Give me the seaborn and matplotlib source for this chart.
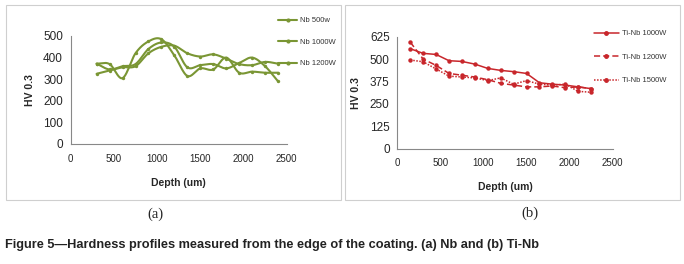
import numpy as np
import pandas as pd
import matplotlib
matplotlib.use("Agg")
import matplotlib.pyplot as plt
from matplotlib.lines import Line2D
from matplotlib.patches import Rectangle
import seaborn as sns

# Data (a) Nb coatings
nb_depth = [300, 450, 600, 750, 900, 1050, 1200, 1350, 1500, 1650, 1800, 1950, 2100, 2250, 2400]
nb_500 = [325, 340, 355, 360, 420, 450, 455, 420, 405, 415, 395, 370, 365, 380, 372]
nb_1000 = [372, 370, 305, 420, 475, 485, 410, 315, 350, 345, 400, 330, 335, 330, 330]
nb_1200 = [372, 345, 360, 370, 440, 470, 450, 355, 365, 370, 350, 375, 400, 360, 290]
nb_labels = ["Nb 500w", "Nb 1000W", "Nb 1200W"]

# Data (b) Ti-Nb coatings
tinb_depth = [150, 300, 450, 600, 750, 900, 1050, 1200, 1350, 1500, 1650, 1800, 1950, 2100, 2250]
tinb_1000 = [558, 532, 526, 491, 487, 472, 448, 437, 430, 420, 368, 360, 355, 345, 335]
tinb_1200 = [595, 500, 465, 420, 410, 400, 385, 365, 355, 345, 345, 350, 340, 345, 335]
tinb_1500 = [495, 485, 445, 405, 400, 395, 380, 395, 360, 380, 360, 355, 360, 320, 315]
tinb_labels = ["Ti-Nb 1000W", "Ti-Nb 1200W", "Ti-Nb 1500W"]

caption = "Figure 5\u2014Hardness profiles measured from the edge of the coating. (a) Nb and (b) Ti-Nb"

green = "#7a9634"
red = "#c8262b"


def smooth(x, y, n=20):
    # Catmull-Rom path through the points, like Excel's smoothed line
    x = np.asarray(x, float)
    y = np.asarray(y, float)
    px = np.concatenate([[2 * x[0] - x[1]], x, [2 * x[-1] - x[-2]]])
    py = np.concatenate([[2 * y[0] - y[1]], y, [2 * y[-1] - y[-2]]])
    xs, ys = [], []
    t = np.linspace(0, 1, n, endpoint=False)
    for i in range(1, len(px) - 2):
        for arr, out in ((px, xs), (py, ys)):
            p0, p1, p2, p3 = arr[i - 1], arr[i], arr[i + 1], arr[i + 2]
            out.extend(0.5 * (2 * p1 + (-p0 + p2) * t
                              + (2 * p0 - 5 * p1 + 4 * p2 - p3) * t ** 2
                              + (-p0 + 3 * p1 - 3 * p2 + p3) * t ** 3))
    xs.append(x[-1])
    ys.append(y[-1])
    return np.array(xs), np.array(ys)


sns.set_style("white")
plt.rcParams["font.family"] = ["Liberation Sans", "DejaVu Sans"]

fig = plt.figure(figsize=(6.84, 2.64), dpi=100)
W, H = 684, 264


def axes_px(x0, x1, y_top, y_bot):
    return fig.add_axes([x0 / W, 1 - y_bot / H, (x1 - x0) / W, (y_bot - y_top) / H])


# panel frames
for x0, x1 in [(6, 341), (345, 680)]:
    fig.patches.append(Rectangle((x0 / W, 1 - 200 / H), (x1 - x0) / W, 195 / H,
                                 transform=fig.transFigure, fill=False,
                                 edgecolor="#cfcfcf", linewidth=0.8))

# ---- (a) Nb
ax1 = axes_px(70.7, 286.7, 36, 144)
for vals in [nb_500, nb_1000, nb_1200]:
    sx, sy = smooth(nb_depth, vals)
    sns.lineplot(x=sx, y=sy, ax=ax1, color=green, linewidth=1.5, sort=False)
    sns.scatterplot(x=nb_depth, y=vals, ax=ax1, color=green, s=6, linewidth=0, zorder=3)
ax1.set_xlim(0, 2500)
ax1.set_ylim(0, 500)
ax1.set_xticks(range(0, 2501, 500))
ax1.set_yticks(range(0, 501, 100))
ax1.set_yticks(range(50, 500, 100), minor=True)

handles1 = [Line2D([], [], color=green, lw=1.5, marker="o", ms=2) for _ in nb_labels]
fig.legend(handles1, nb_labels, loc="upper left", bbox_to_anchor=(275 / W, 1 - 14 / H),
           frameon=False, fontsize=5.5, handlelength=2.5, labelspacing=1.85,
           handletextpad=0.4, borderaxespad=0, labelcolor="#333333")

# ---- (b) Ti-Nb
ax2 = axes_px(397.3, 612.7, 36.7, 148.7)
df2 = pd.DataFrame({"depth": tinb_depth * 3,
                    "hv": tinb_1000 + tinb_1200 + tinb_1500,
                    "series": np.repeat(tinb_labels, len(tinb_depth))})
styles = {tinb_labels[0]: "-", tinb_labels[1]: (0, (4, 2)), tinb_labels[2]: (0, (1, 1))}
for lab in tinb_labels:
    d = df2[df2["series"] == lab]
    sns.lineplot(data=d, x="depth", y="hv", ax=ax2, color=red, linewidth=1.1,
                 linestyle=styles[lab], marker="o", markersize=3.2,
                 markeredgewidth=0)
ax2.set_xlim(0, 2500)
ax2.set_ylim(0, 625)
ax2.set_xticks(range(0, 2501, 500))
ax2.set_yticks(range(0, 626, 125))

handles2 = [Line2D([], [], color=red, lw=1.1, ls=styles[l], marker="o", ms=2.5)
            for l in tinb_labels]
fig.legend(handles2, tinb_labels, loc="upper left", bbox_to_anchor=(591 / W, 1 - 27 / H),
           frameon=False, fontsize=5.5, handlelength=3.2, labelspacing=2.1,
           handletextpad=0.4, borderaxespad=0, labelcolor="#333333")

for ax in (ax1, ax2):
    for side in ("top", "right"):
        ax.spines[side].set_visible(False)
    for side in ("left", "bottom"):
        ax.spines[side].set_color("#888888")
        ax.spines[side].set_linewidth(0.8)
    ax.tick_params(axis="both", which="major", length=3, width=0.6,
                   color="#888888", direction="out", pad=2.5)
    ax.tick_params(axis="both", which="minor", length=2, width=0.5, color="#aaaaaa")
    ax.tick_params(axis="y", labelsize=8.5)
    ax.tick_params(axis="x", labelsize=7, pad=4)
    ax.set_xlabel("Depth (um)", fontsize=7.5, fontweight="bold", labelpad=10)
    ax.set_ylabel("HV 0.3", fontsize=7.5, fontweight="bold", labelpad=6)

# captions
fig.text(155 / W, 1 - 214 / H, "(a)", ha="center", va="center", fontsize=10.5,
         family=["Liberation Serif", "DejaVu Serif"])
fig.text(530 / W, 1 - 213 / H, "(b)", ha="center", va="center", fontsize=10.5,
         family=["Liberation Serif", "DejaVu Serif"])
cap = fig.text(5 / W, 1 - 245 / H, caption, ha="left", va="center", fontsize=10,
               fontweight="bold", color="#222222",
               family=["Liberation Sans Narrow", "Liberation Sans", "DejaVu Sans"])
# fit caption width to the reference (about 533 px)
fig.canvas.draw()
w = cap.get_window_extent().width
cap.set_fontsize(10 * 533 / w)

fig.savefig("out.png", dpi=100)
